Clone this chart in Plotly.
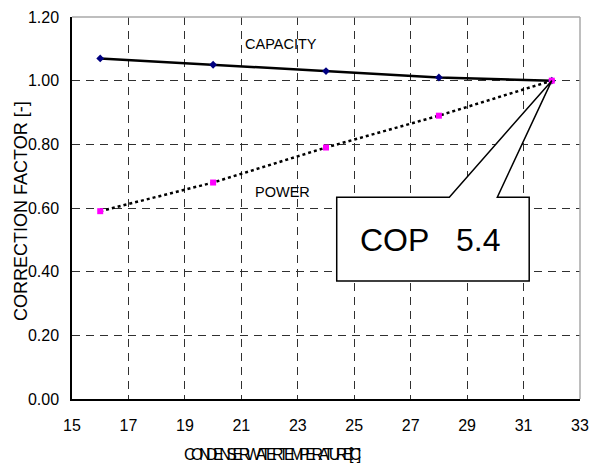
import plotly.graph_objects as go

temps = [16, 20, 24, 28, 32]
capacity = [1.07, 1.05, 1.03, 1.01, 1.00]
power = [0.59, 0.68, 0.79, 0.89, 1.00]
x_ticks = [15, 17, 19, 21, 23, 25, 27, 29, 31, 33]
y_ticks = [0.0, 0.2, 0.4, 0.6, 0.8, 1.0, 1.2]

FONT = "Liberation Sans, Arial, sans-serif"
GRID = "#303030"

fig = go.Figure()
fig.add_trace(go.Scatter(x=temps, y=capacity, mode="lines+markers",
                         line=dict(color="black", width=2.5),
                         marker=dict(symbol="diamond", size=6, color="#000080"),
                         showlegend=False))
fig.add_trace(go.Scatter(x=temps, y=power, mode="lines+markers",
                         line=dict(color="black", width=2.5, dash="dot"),
                         marker=dict(symbol="square", size=6, color="#ff00ff"),
                         showlegend=False))

# callout box with pointer to (32, 1.00)
path = ("M 24.38,0.634 L 28.37,0.634 L 32,1.0 L 30.07,0.634 L 31.2,0.634 "
        "L 31.2,0.371 L 24.38,0.371 Z")
fig.add_shape(type="path", path=path, xref="x", yref="y",
              line=dict(color="black", width=1.5), fillcolor="white")
fig.add_annotation(x=27.72, y=0.50, xref="x", yref="y", text="COP&nbsp;&nbsp;&nbsp;5.4",
                   showarrow=False, font=dict(family=FONT, size=32, color="black"))

fig.add_annotation(x=22.42, y=1.115, text="CAPACITY", showarrow=False,
                   font=dict(family=FONT, size=14.5, color="black"))
fig.add_annotation(x=22.47, y=0.649, text="POWER", showarrow=False,
                   font=dict(family=FONT, size=14.5, color="black"))

# axis titles
fig.add_annotation(x=0, y=0.5, xref="paper", yref="paper", xshift=-51, yshift=-3,
                   xanchor="center", yanchor="middle",
                   text="CORRECTION FACTOR [-]", textangle=-90, showarrow=False,
                   font=dict(family=FONT, size=18, color="black"))
fig.add_annotation(x=0.3898, y=0, xref="paper", yref="paper", yshift=-55,
                   xanchor="center", yanchor="middle",
                   text="CONDENSER WATER TEMPERATURE [˚C]", showarrow=False,
                   font=dict(family=FONT, size=16, color="black"))

# light gray top and right frame
fig.add_shape(type="line", xref="paper", yref="paper", x0=0, x1=1, y0=1, y1=1,
              line=dict(color="#a8a8a8", width=1.5))
fig.add_shape(type="line", xref="paper", yref="paper", x0=1, x1=1, y0=0, y1=1,
              line=dict(color="#a8a8a8", width=1.5))

fig.update_layout(
    width=590, height=466,
    margin=dict(l=72, r=10, t=17, b=67),
    paper_bgcolor="white", plot_bgcolor="white",
    font=dict(family=FONT, size=16, color="black"),
    xaxis=dict(range=[15, 33], tickvals=x_ticks, ticktext=[str(v) for v in x_ticks],
               showgrid=True, gridcolor=GRID, griddash="8px,6px", gridwidth=1,
               showline=True, linecolor="black", linewidth=2,
               ticks="", ticklabelstandoff=11, zeroline=False, automargin=False,
               tickfont=dict(size=16)),
    yaxis=dict(range=[0, 1.2], tickvals=y_ticks, tickformat=".2f",
               showgrid=True, gridcolor=GRID, griddash="8px,6px", gridwidth=1,
               showline=True, linecolor="black", linewidth=1.5,
               ticks="", ticklabelstandoff=8, zeroline=False, automargin=False,
               tickfont=dict(size=16)),
)

post = """
document.body.style.margin = '0px';
document.body.style.overflow = 'hidden';
document.querySelectorAll('text').forEach(function(t){
  if (t.textContent.indexOf('CONDENSER') === 0) { t.style.letterSpacing = '-4.5px'; }
});
"""
fig.write_html("out.html", post_script=post, config={"displayModeBar": False})
